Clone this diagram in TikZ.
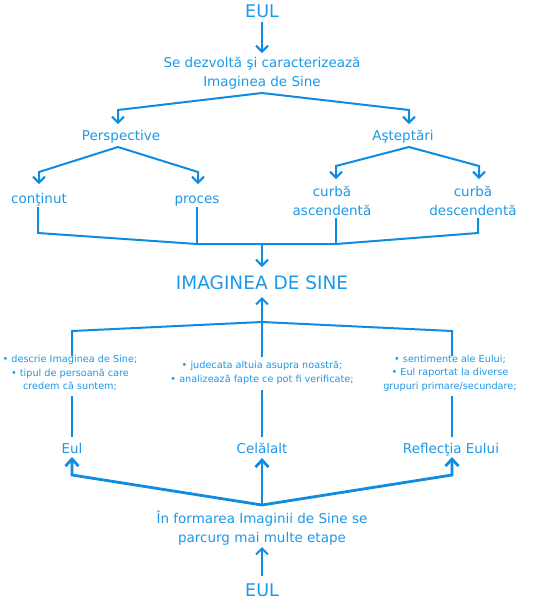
\documentclass[tikz,border=0pt]{standalone}
\usepackage{fontspec}
\setmainfont{DejaVu Sans}
\usetikzlibrary{arrows.meta}
\definecolor{tx}{RGB}{28,152,232}
\definecolor{ln}{RGB}{15,140,225}
\begin{document}
\begin{tikzpicture}[x=1pt,y=-1pt,
 lbl/.style={text=tx, font=\fontsize{13.5}{19}\selectfont, align=center, inner sep=0pt},
 big/.style={text=tx, font=\fontsize{18.5}{19}\selectfont, inner sep=0pt},
 small/.style={text=tx, font=\fontsize{9.7}{13.5}\selectfont, align=center, inner sep=0pt},
 conn/.style={draw=ln, line width=2pt, line join=miter},
 arr/.style={conn, -{Straight Barb[length=6pt,width=12pt,line width=2pt]}},
 thick conn/.style={draw=ln, line width=2.8pt, line join=miter},
 thick arr/.style={thick conn, -{Straight Barb[length=7pt,width=13pt,line width=2.8pt]}},
 ]
\useasboundingbox (0,0) rectangle (533,603);
% nodes
\node[big, anchor=base, font=\fontsize{17.5}{19}\selectfont] (eul1) at (262,17) {EUL};
\node[lbl] (se) at (262,73) {Se dezvoltă şi caracterizează\\Imaginea de Sine};
\node[lbl, anchor=base] (persp) at (121,140) {Perspective};
\node[lbl, anchor=base] (astept) at (403,140) {Aşteptări};
\node[lbl, anchor=base] (cont) at (39,203) {conţinut};
\node[lbl, anchor=base] (proc) at (197,203) {proces};
\node[lbl] (asc) at (332,201) {curbă\\ascendentă};
\node[lbl] (desc) at (473,201) {curbă\\descendentă};
\node[big, anchor=base] (imag) at (262,289) {IMAGINEA DE SINE};
\node[small] (b1) at (70,373) {• descrie Imaginea de Sine;\\• tipul de persoană care\\credem că suntem;};
\node[small] (b2) at (262,373) {• judecata altuia asupra noastră;\\• analizează fapte ce pot fi verificate;};
\node[small] (b3) at (450,373) {• sentimente ale Eului;\\• Eul raportat la diverse\\grupuri primare/secundare;};
\node[lbl, anchor=base] (eul2) at (72,453) {Eul};
\node[lbl, anchor=base] (cel) at (262,453) {Celălalt};
\node[lbl, anchor=base] (refl) at (451,453) {Reflecţia Eului};
\node[lbl] (form) at (262,528) {În formarea Imaginii de Sine se\\parcurg mai multe etape};
\node[big, anchor=base, font=\fontsize{17.5}{19}\selectfont] (eul3) at (262,596) {EUL};
% junction coordinates
\coordinate (j1) at (262,22);
\coordinate (j1t) at (262,53);
\coordinate (p1) at (262,93);
\coordinate (pl) at (118,110);
\coordinate (plt) at (118,124);
\coordinate (pr) at (409,110);
\coordinate (prt) at (409,124);
\coordinate (p2) at (118,147);
\coordinate (p2l) at (39,172);
\coordinate (p2lt) at (39,184);
\coordinate (p2r) at (198,172);
\coordinate (p2rt) at (198,184);
\coordinate (p3) at (409,147);
\coordinate (p3l) at (336,166);
\coordinate (p3lt) at (336,179);
\coordinate (p3r) at (479,166);
\coordinate (p3rt) at (479,179);
\coordinate (c1) at (38,207);
\coordinate (c1b) at (38,233);
\coordinate (c2) at (197,207);
\coordinate (c2b) at (197,244);
\coordinate (c3) at (336,218);
\coordinate (c3b) at (336,244);
\coordinate (c4) at (478,218);
\coordinate (c4b) at (478,233);
\coordinate (m) at (262,244);
\coordinate (mt) at (262,267);
\coordinate (u) at (262,322);
\coordinate (ut) at (262,297);
\coordinate (ul) at (72,331);
\coordinate (ulb) at (72,356);
\coordinate (ur) at (452,331);
\coordinate (urb) at (452,356);
\coordinate (umb) at (262,357);
\coordinate (v1) at (72,396);
\coordinate (v1b) at (72,437);
\coordinate (v2) at (262,390);
\coordinate (v2b) at (262,437);
\coordinate (v3) at (452,396);
\coordinate (v3b) at (452,437);
\coordinate (f) at (262,505);
\coordinate (fl) at (72,475);
\coordinate (flt) at (72,457);
\coordinate (fmt) at (262,458);
\coordinate (fr) at (452,475);
\coordinate (frt) at (452,457);
\coordinate (e3) at (262,576);
\coordinate (e3t) at (262,547);
% connectors
\draw[arr] (j1) -- (j1t);
\draw[arr] (p1) -- (pl) -- (plt);
\draw[arr] (p1) -- (pr) -- (prt);
\draw[arr] (p2) -- (p2l) -- (p2lt);
\draw[arr] (p2) -- (p2r) -- (p2rt);
\draw[arr] (p3) -- (p3l) -- (p3lt);
\draw[arr] (p3) -- (p3r) -- (p3rt);
\draw[conn] (c1) -- (c1b) -- (c2b) -- (c3b) -- (c4b) -- (c4);
\draw[conn] (c2) -- (c2b);
\draw[conn] (c3) -- (c3b);
\draw[arr] (m) -- (mt);
\draw[arr] (u) -- (ut);
\draw[conn] (ulb) -- (ul) -- (u) -- (ur) -- (urb);
\draw[conn] (u) -- (umb);
\draw[conn] (v1) -- (v1b);
\draw[conn] (v2) -- (v2b);
\draw[conn] (v3) -- (v3b);
\draw[thick arr] (f) -- (fl) -- (flt);
\draw[thick arr] (f) -- (fmt);
\draw[thick arr] (f) -- (fr) -- (frt);
\draw[arr] (e3) -- (e3t);
\end{tikzpicture}
\end{document}
